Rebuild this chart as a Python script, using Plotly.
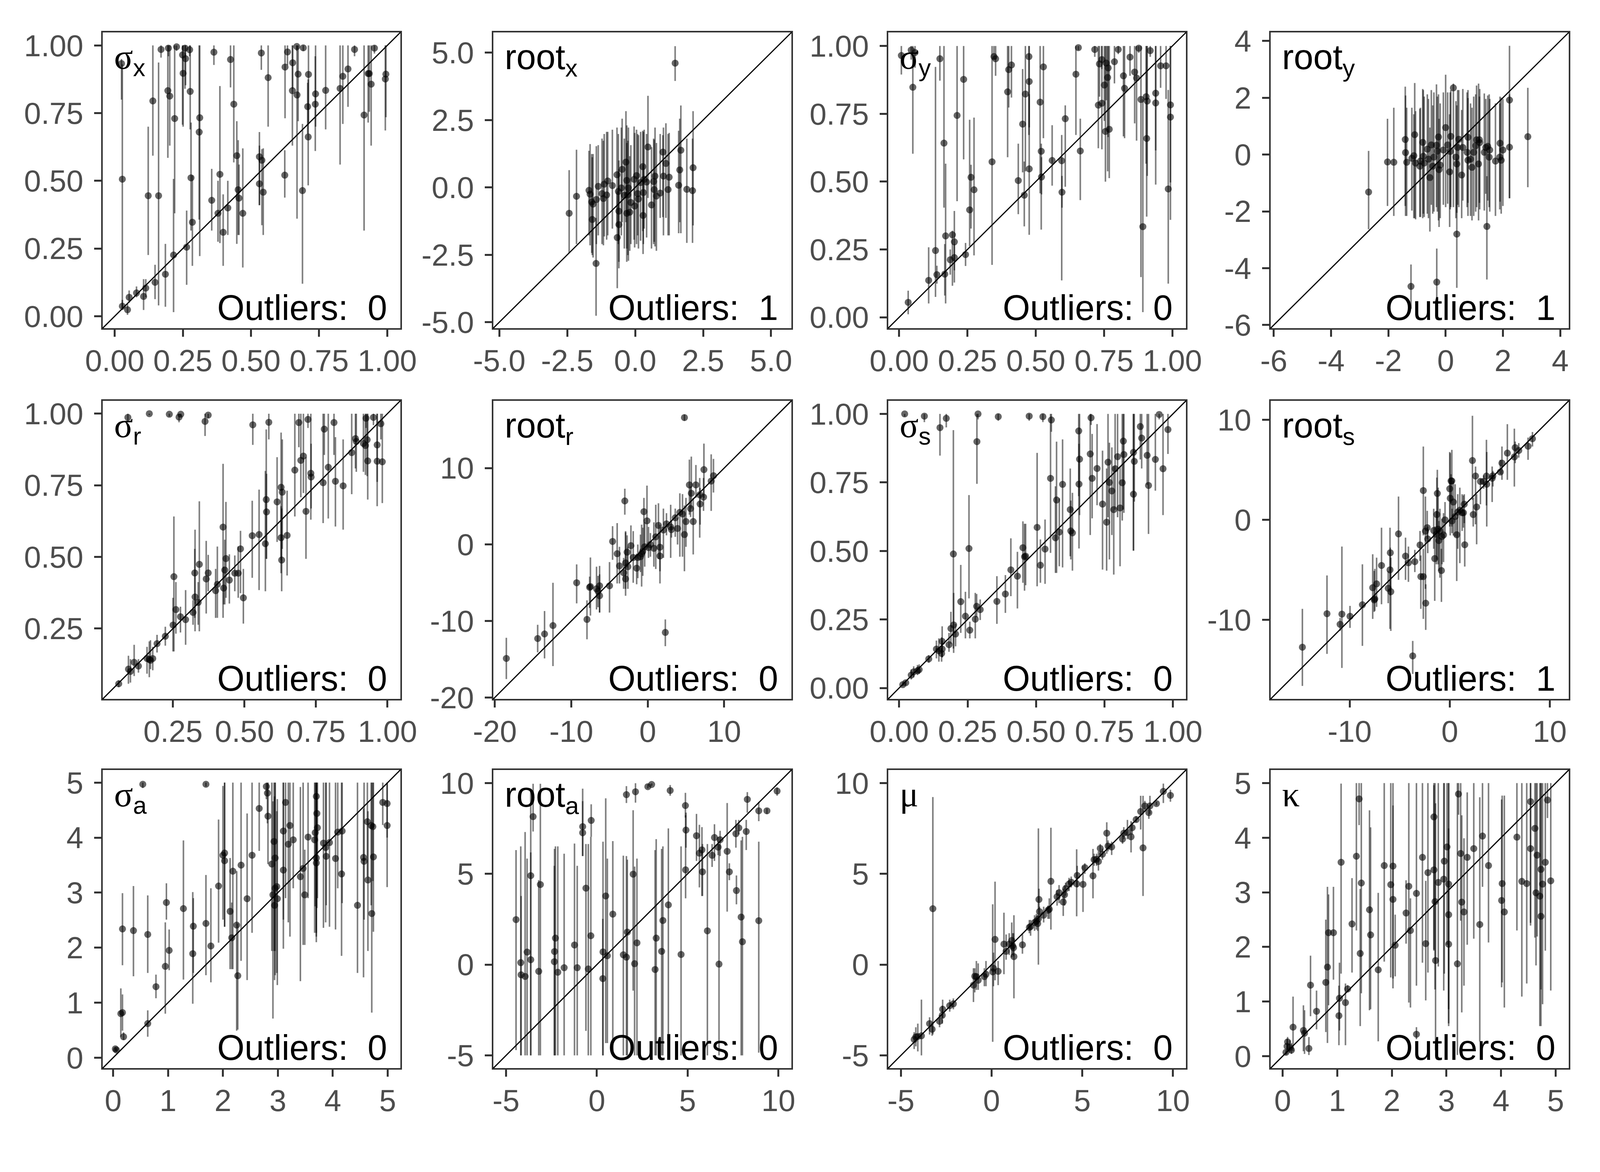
import plotly.graph_objects as go

# panel titles and outlier counts
labels = ["σ|x", "root|x", "σ|y", "root|y", "σ|r", "root|r", "σ|s", "root|s", "σ|a", "root|a", "μ|", "κ|"]
outliers = [0, 1, 0, 1, 0, 0, 0, 1, 0, 0, 0, 0]

# rows: true value, estimate, lower, upper
sig_x = [
    [0.028, 0.506, 0.03, 0.93], [0.025, 0.933, 0.80, 0.95], [0.028, 0.037, 0.023, 0.06], [0.047, 0.024, 0.005, 0.045],
    [0.053, 0.07, 0.05, 0.095], [0.08, 0.086, 0.07, 0.11], [0.106, 0.073, 0.023, 0.137], [0.114, 0.104, 0.07, 0.137],
    [0.148, 0.125, 0.063, 0.19], [0.186, 0.155, 0.035, 0.267], [0.216, 0.226, 0.015, 0.507], [0.123, 0.445, 0.226, 0.70],
    [0.161, 0.445, 0.04, 0.937], [0.14, 0.795, 0.593, 1.0], [0.17, 0.985, 0.955, 1.0], [0.195, 0.833, 0.585, 1.0],
    [0.197, 0.99, 0.96, 1.0], [0.202, 0.813, 0.63, 1.0], [0.22, 0.73, 0.38, 1.0], [0.227, 0.995, 0.98, 1.0],
    [0.249, 0.965, 0.707, 1.0], [0.251, 0.897, 0.70, 1.0], [0.258, 0.99, 0.84, 1.0], [0.26, 0.951, 0.853, 1.0],
    [0.264, 0.255, 0.116, 0.39], [0.275, 0.984, 0.96, 1.0], [0.277, 0.83, 0.69, 1.0], [0.28, 0.511, 0.316, 0.715],
    [0.285, 0.347, 0.186, 0.52], [0.312, 0.733, 0.222, 1.0], [0.31, 0.68, 0.357, 1.0], [0.364, 0.975, 0.928, 1.0],
    [0.356, 0.428, 0.316, 0.544], [0.379, 0.38, 0.275, 0.5], [0.386, 0.524, 0.27, 0.85], [0.398, 0.31, 0.186, 0.45],
    [0.415, 0.40, 0.30, 0.50], [0.425, 0.948, 0.845, 1.0], [0.437, 0.783, 0.568, 1.0], [0.448, 0.593, 0.267, 0.72],
    [0.453, 0.467, 0.30, 0.65], [0.456, 0.436, 0.30, 0.56], [0.47, 0.38, 0.18, 0.62], [0.531, 0.589, 0.41, 0.68],
    [0.531, 0.489, 0.41, 0.63], [0.54, 0.576, 0.336, 0.617], [0.545, 0.458, 0.30, 0.62], [0.538, 0.972, 0.91, 1.0],
    [0.563, 0.881, 0.70, 1.0], [0.624, 0.521, 0.438, 0.613], [0.625, 0.92, 0.731, 1.0], [0.634, 0.976, 0.927, 1.0],
    [0.652, 0.833, 0.63, 1.0], [0.653, 0.936, 0.84, 1.0], [0.669, 0.817, 0.36, 1.0], [0.668, 0.996, 0.98, 1.0],
    [0.673, 0.894, 0.72, 1.0], [0.689, 0.464, 0.12, 0.71], [0.692, 0.991, 0.98, 1.0], [0.708, 0.774, 0.674, 0.862],
    [0.71, 0.662, 0.483, 0.874], [0.711, 0.893, 0.715, 1.0], [0.736, 0.783, 0.61, 0.96], [0.737, 0.821, 0.70, 1.0],
    [0.774, 0.834, 0.69, 1.0], [0.827, 0.841, 0.56, 1.0], [0.837, 0.886, 0.71, 1.0], [0.856, 0.913, 0.773, 1.0],
    [0.88, 0.985, 0.96, 1.0], [0.915, 0.743, 0.316, 1.0], [0.93, 0.896, 0.715, 1.0], [0.934, 0.896, 0.755, 1.0],
    [0.941, 0.857, 0.63, 1.0], [0.953, 0.99, 0.97, 1.0], [0.995, 0.894, 0.735, 1.0], [0.993, 0.876, 0.686, 1.0],
]

root_x = [
    [1.47, 4.61, 3.95, 5.24], [-2.43, -0.96, -2.43, 0.64], [-2.16, -0.33, -2.1, 1.40], [-1.70, -0.11, -1.78, 1.36],
    [-1.66, -0.25, -2.15, 1.61], [-1.60, -0.54, -2.43, 1.24], [-1.58, -1.19, -2.51, 1.12], [-1.55, -0.62, -2.60, 1.24],
    [-1.44, -2.82, -4.76, -1.13], [-1.43, -0.45, -2.1, 1.53], [-1.36, 0.04, -1.78, 1.57], [-1.22, -0.23, -2.1, 1.81],
    [-1.17, -0.41, -2.15, 1.73], [-1.14, 0.12, -1.82, 1.98], [-1.05, -0.28, -1.94, 2.06], [-1.01, 0.24, -1.78, 2.06],
    [-0.84, 0.07, -1.53, 2.14], [-0.67, 0.47, -1.45, 2.22], [-0.66, -1.86, -3.74, -0.15], [-0.62, -0.15, -2.10, 1.98],
    [-0.60, -1.38, -3.0, 0.67], [-0.60, -0.88, -2.76, 1.0], [-0.51, -0.02, -1.78, 2.22], [-0.48, 0.67, -1.29, 2.55],
    [-0.40, -0.29, -2.27, 1.81], [-0.34, 0.94, -1.29, 2.83], [-0.31, 0.26, -2.27, 2.30], [-0.31, -0.96, -2.76, 1.65],
    [-0.27, -0.27, -2.51, 1.73], [-0.25, -0.02, -2.72, 2.22], [-0.20, -0.92, -2.35, 1.16], [-0.16, -0.56, -2.10, 1.57],
    [-0.04, 0.30, -1.94, 2.26], [-0.02, -0.69, -2.23, 2.02], [0.05, 0.44, -2.10, 2.14], [0.09, -0.23, -1.78, 1.98],
    [0.12, -0.43, -2.27, 1.94], [0.20, 0.18, -1.98, 2.06], [0.28, 0.77, -1.62, 2.10], [0.29, -1.04, -2.47, 0.83],
    [0.30, -0.19, -2.1, 2.06], [0.33, 0.30, -1.53, 2.14], [0.42, 0.20, -1.86, 1.98], [0.47, 1.50, -0.39, 3.40],
    [0.60, -0.65, -2.27, 1.49], [0.68, 0.22, -2.1, 1.81], [0.70, -0.08, -2.02, 1.77], [0.73, 0.42, -2.19, 2.22],
    [0.78, -0.32, -2.35, 1.65], [0.92, -0.21, -1.13, 1.98], [1.02, 1.31, -1.1, 1.94], [1.04, 0.42, -1.78, 2.22],
    [1.13, 0.89, -1.13, 2.38], [1.21, -0.08, -1.78, 1.98], [1.25, 0.38, -1.78, 2.02], [1.60, 0.08, -1.70, 2.10],
    [1.64, 0.65, -1.29, 2.55], [1.68, 1.38, -1.70, 3.04], [1.90, -0.07, -2.06, 1.81], [2.11, -0.12, -2.06, 1.81],
    [2.13, 0.73, -1.41, 2.83],
]

sig_y = [
    [0.008, 0.965, 0.895, 1.0], [0.033, 0.055, 0.011, 0.098], [0.044, 0.985, 0.95, 1.0], [0.05, 0.848, 0.603, 1.0],
    [0.058, 0.976, 0.92, 1.0], [0.108, 0.136, 0.051, 0.258], [0.133, 0.246, 0.075, 0.923], [0.138, 0.157, 0.124, 0.19],
    [0.149, 0.953, 0.872, 1.0], [0.164, 0.642, 0.404, 1.0], [0.167, 0.159, 0.08, 0.27], [0.17, 0.30, 0.051, 0.566],
    [0.195, 0.304, 0.116, 0.319], [0.187, 0.212, 0.157, 0.25], [0.202, 0.278, 0.128, 0.392], [0.202, 0.22, 0.173, 0.27],
    [0.212, 0.744, 0.428, 1.0], [0.236, 0.877, 0.582, 1.0], [0.243, 0.231, 0.189, 0.274], [0.258, 0.396, 0.262, 0.728],
    [0.263, 0.516, 0.327, 0.562], [0.274, 0.47, 0.228, 0.736], [0.34, 0.573, 0.193, 1.0], [0.347, 0.961, 0.951, 1.0],
    [0.353, 0.953, 0.89, 1.0], [0.397, 0.831, 0.59, 1.0], [0.401, 0.913, 0.773, 1.0], [0.411, 0.93, 0.81, 1.0],
    [0.436, 0.504, 0.38, 0.64], [0.452, 0.712, 0.534, 0.915], [0.458, 0.45, 0.335, 0.574], [0.462, 0.823, 0.538, 1.0],
    [0.475, 0.961, 0.672, 1.0], [0.476, 0.869, 0.70, 1.0], [0.476, 0.547, 0.304, 0.822], [0.516, 0.793, 0.457, 1.0],
    [0.52, 0.612, 0.323, 0.64], [0.521, 0.517, 0.453, 0.59], [0.528, 0.923, 0.66, 1.0], [0.56, 0.578, 0.485, 0.708],
    [0.595, 0.577, 0.136, 0.672], [0.596, 0.461, 0.404, 0.521], [0.608, 0.732, 0.481, 0.781], [0.647, 0.896, 0.672, 1.0],
    [0.656, 0.994, 0.985, 1.0], [0.663, 0.613, 0.432, 0.732], [0.716, 0.987, 0.96, 1.0], [0.729, 0.782, 0.623, 1.0],
    [0.733, 0.934, 0.813, 1.0], [0.742, 0.789, 0.619, 1.0], [0.742, 0.95, 0.915, 1.0], [0.751, 0.856, 0.724, 1.0],
    [0.755, 0.685, 0.50, 1.0], [0.758, 0.937, 0.80, 1.0], [0.763, 0.884, 0.538, 1.0], [0.765, 0.919, 0.664, 1.0],
    [0.769, 0.693, 0.513, 1.0], [0.788, 0.942, 0.862, 1.0], [0.802, 0.987, 0.97, 1.0], [0.821, 0.89, 0.667, 1.0],
    [0.825, 0.844, 0.66, 1.0], [0.845, 0.959, 0.89, 1.0], [0.862, 0.904, 0.715, 1.0], [0.869, 0.882, 0.651, 1.0],
    [0.877, 0.992, 0.975, 1.0], [0.885, 0.803, 0.148, 1.0], [0.892, 0.334, 0.019, 0.805], [0.904, 0.813, 0.566, 1.0],
    [0.906, 0.659, 0.371, 1.0], [0.908, 0.797, 0.521, 1.0], [0.919, 0.983, 0.96, 1.0], [0.939, 0.826, 0.615, 1.0],
    [0.939, 0.79, 0.489, 1.0], [0.957, 0.927, 0.846, 1.0], [0.977, 0.927, 0.805, 1.0], [0.985, 0.473, 0.124, 0.838],
    [0.993, 0.783, 0.359, 1.0], [0.993, 0.738, 0.497, 1.0],
]

root_y = [
    [-2.69, -1.32, -2.63, 0.13], [-2.03, -0.26, -1.81, 1.26], [-1.81, -0.27, -2.16, 1.65], [-1.41, 0.53, -1.81, 2.39],
    [-1.40, 0.07, -2.16, 2.08], [-1.36, -0.27, -2.16, 1.65], [-1.18, -0.13, -1.97, 1.65], [-1.11, -0.04, -2.24, 1.42],
    [-1.08, 0.70, -2.24, 2.52], [-1.05, -0.30, -2.28, 1.53], [-0.90, -0.41, -2.20, 1.61], [-0.88, -0.23, -2.20, 1.65],
    [-0.80, 0.43, -2.24, 2.31], [-0.78, -0.06, -2.08, 2.27], [-0.75, -0.30, -2.20, 2.04], [-0.64, 0.19, -2.08, 2.12],
    [-0.60, -0.16, -2.24, 1.96], [-0.55, -0.81, -2.71, 0.95], [-0.50, 0.34, -1.77, 2.27], [-0.45, -0.41, -2.08, 1.73],
    [-0.41, -0.09, -2.01, 2.19], [-0.32, 0.33, -1.85, 2.47], [-0.29, 0.12, -2.01, 2.04], [-0.25, 0.62, -2.32, 2.12],
    [-0.23, -0.53, -2.55, 1.26], [-0.19, -0.37, -2.24, 1.80], [-0.08, 0.16, -1.77, 2.19], [0.0, 0.95, -1.85, 2.81],
    [0.07, 0.34, -1.73, 2.19], [0.14, -0.61, -2.55, 1.42], [0.18, 0.64, -1.85, 2.27], [0.16, 0.11, -1.93, 2.19],
    [0.27, 2.35, -1.85, 2.50], [0.36, -0.09, -2.24, 1.88], [0.39, -0.33, -2.05, 1.73], [0.39, -2.80, -4.69, -0.14],
    [0.42, 0.25, -1.77, 2.27], [0.46, 0.54, -1.85, 2.27], [0.56, -0.72, -2.24, 1.57], [0.60, 0.25, -1.62, 2.31],
    [0.75, 0.08, -1.85, 2.19], [0.78, 0.61, -1.70, 2.27], [0.78, -0.20, -2.16, 1.99], [0.87, -0.16, -2.16, 1.80],
    [0.92, -0.45, -2.32, 1.65], [0.98, 0.08, -2.16, 2.04], [1.05, 0.31, -2.01, 2.12], [1.08, 0.52, -1.85, 2.43],
    [1.15, -0.33, -2.32, 2.50], [1.18, 0.52, -1.70, 2.04], [1.19, 0.42, -1.93, 2.31], [1.35, 0.08, -1.97, 2.15],
    [1.40, 0.25, -1.38, 1.96], [1.44, -2.53, -4.40, -0.76], [1.47, 0.29, -1.62, 2.08], [1.52, -0.09, -1.85, 2.12],
    [1.54, 0.16, -2.01, 1.96], [1.74, -0.23, -2.16, 1.80], [1.89, -0.09, -1.93, 1.80], [1.90, 0.40, -1.66, 2.04],
    [1.94, -0.20, -2.08, 2.00], [2.00, 0.16, -1.81, 1.96], [2.23, 1.92, -1.54, 3.83], [2.23, 0.26, -1.54, 2.12],
    [2.87, 0.63, -1.15, 2.35], [-1.21, -4.64, -5.43, -3.87], [-0.31, -4.49, -5.66, -3.31],
]

sig_r = [
    [0.06, 0.057, 0.045, 0.069], [0.094, 0.108, 0.057, 0.155], [0.101, 0.10, 0.061, 0.143], [0.114, 0.132, 0.084, 0.193],
    [0.129, 0.119, 0.096, 0.143], [0.159, 0.145, 0.092, 0.186], [0.167, 0.142, 0.08, 0.205], [0.171, 0.139, 0.108, 0.209],
    [0.179, 0.145, 0.104, 0.186], [0.194, 0.197, 0.166, 0.228], [0.223, 0.223, 0.19, 0.256], [0.25, 0.262, 0.17, 0.357],
    [0.253, 0.431, 0.17, 0.641], [0.26, 0.316, 0.232, 0.412], [0.276, 0.291, 0.236, 0.326], [0.294, 0.281, 0.193, 0.384],
    [0.32, 0.306, 0.263, 0.349], [0.327, 0.36, 0.24, 0.595], [0.326, 0.444, 0.287, 0.528], [0.338, 0.341, 0.263, 0.412],
    [0.342, 0.474, 0.24, 0.694], [0.366, 0.423, 0.302, 0.556], [0.373, 0.444, 0.38, 0.507], [0.399, 0.382, 0.287, 0.458],
    [0.405, 0.404, 0.287, 0.536], [0.425, 0.604, 0.287, 0.825], [0.427, 0.391, 0.334, 0.466], [0.431, 0.454, 0.334, 0.56],
    [0.435, 0.494, 0.357, 0.692], [0.447, 0.419, 0.337, 0.509], [0.466, 0.443, 0.38, 0.505], [0.478, 0.443, 0.357, 0.536],
    [0.486, 0.528, 0.373, 0.591], [0.496, 0.357, 0.267, 0.458], [0.527, 0.574, 0.427, 0.696], [0.551, 0.578, 0.384, 0.735],
    [0.573, 0.546, 0.38, 0.80], [0.576, 0.70, 0.493, 0.945], [0.577, 0.657, 0.493, 0.79], [0.585, 0.97, 0.91, 1.0],
    [0.529, 0.961, 0.891, 1.0], [0.614, 0.692, 0.552, 0.848], [0.628, 0.743, 0.489, 0.934], [0.628, 0.567, 0.443, 0.677],
    [0.63, 0.489, 0.38, 0.669], [0.632, 0.726, 0.528, 0.91], [0.649, 0.575, 0.435, 0.731], [0.676, 0.803, 0.641, 1.0],
    [0.69, 0.969, 0.883, 1.0], [0.697, 0.837, 0.708, 1.0], [0.706, 0.852, 0.723, 1.0], [0.715, 0.659, 0.493, 0.848],
    [0.722, 0.98, 0.95, 1.0], [0.732, 0.792, 0.63, 1.0], [0.733, 0.779, 0.669, 0.895], [0.775, 0.759, 0.618, 1.0],
    [0.779, 0.946, 0.856, 1.0], [0.793, 0.813, 0.634, 1.0], [0.813, 0.969, 0.856, 1.0], [0.818, 0.764, 0.606, 0.918],
    [0.845, 0.748, 0.595, 0.91], [0.875, 0.864, 0.719, 1.0], [0.888, 0.913, 0.809, 1.0], [0.891, 0.903, 0.797, 1.0],
    [0.916, 0.896, 0.797, 1.0], [0.923, 0.889, 0.786, 1.0], [0.925, 0.984, 0.95, 1.0], [0.929, 0.909, 0.782, 1.0],
    [0.931, 0.835, 0.70, 1.0], [0.951, 0.987, 0.96, 1.0], [0.964, 0.891, 0.762, 1.0], [0.964, 0.834, 0.677, 1.0],
    [0.977, 0.965, 0.91, 1.0], [0.982, 0.832, 0.688, 1.0], [0.092, 0.987, 0.975, 1.0], [0.167, 1.0, 0.995, 1.0],
    [0.237, 0.998, 0.99, 1.0], [0.271, 0.988, 0.97, 1.0], [0.277, 0.998, 0.99, 1.0], [0.362, 0.973, 0.922, 1.0],
    [0.373, 0.995, 0.985, 1.0],
]

root_r = [
    [-18.5, -14.9, -17.6, -12.2], [-14.4, -12.3, -14.1, -10.5], [-13.5, -11.7, -14.9, -8.7], [-12.4, -10.6, -15.9, -5.0],
    [-9.3, -5.0, -7.7, -2.6], [-7.95, -9.8, -12.4, -7.3], [-7.6, -5.6, -8.3, -4.2], [-7.5, -5.5, -9.3, -1.7],
    [-6.7, -5.8, -8.5, -2.9], [-6.5, -6.1, -8.2, -4.1], [-6.3, -6.7, -8.9, -3.9], [-6.3, -5.4, -8.9, -2.8],
    [-5.0, -5.4, -8.9, -2.3], [-4.6, 0.4, -2.0, 2.4], [-4.0, -1.2, -5.1, 2.8], [-3.7, -2.8, -5.1, -0.3],
    [-3.15, -3.7, -5.8, -1.75], [-3.0, 5.7, 3.9, 7.3], [-2.9, -4.5, -6.7, 1.75], [-2.9, -2.4, -5.8, 1.6],
    [-2.7, -1.0, -3.0, 1.2], [-2.6, -2.9, -5.8, -0.3], [-2.2, -0.15, -2.3, 2.5], [-1.9, -1.7, -5.0, 1.75],
    [-1.45, -3.1, -5.2, -1.2], [-1.3, -1.7, -4.4, 0.0], [-0.95, -1.6, -3.6, 1.3], [-0.8, -1.2, -5.5, 2.6],
    [-0.65, -0.9, -4.1, 2.2], [-0.5, 4.3, -1.3, 6.1], [-0.4, -0.3, -2.9, 2.9], [-0.1, 3.1, -0.4, 7.7],
    [0.1, -0.4, -1.75, 2.3], [0.35, 0.0, -1.6, 1.5], [0.8, -0.5, -2.9, 2.9], [1.05, 1.0, -3.2, 5.2],
    [1.4, 2.5, -1.9, 5.4], [1.6, -0.35, -3.5, 2.6], [1.6, -1.5, -5.1, 1.75], [2.05, 1.9, -1.75, 4.7],
    [2.3, -11.5, -13.3, -9.8], [2.45, 2.7, 1.2, 4.1], [3.0, 2.3, -1.75, 5.2], [3.1, 1.95, 0.9, 3.1],
    [3.6, 3.5, 1.0, 4.7], [3.9, 2.1, 0.0, 3.5], [4.2, 4.2, -1.6, 6.7], [4.55, 4.0, -1.6, 6.6],
    [4.8, 1.3, -3.5, 5.1], [4.8, 16.6, 16.2, 17.0], [5.0, 3.0, -0.3, 6.1], [5.45, 7.8, 3.9, 11.1],
    [5.6, 4.7, 3.6, 7.6], [5.7, 6.7, 4.7, 11.5], [5.95, 3.0, -1.3, 6.1], [6.3, 7.8, 6.1, 10.4],
    [6.8, 6.5, 0.9, 8.7], [6.85, 5.3, 2.6, 7.4], [7.3, 6.2, 4.4, 8.7], [7.35, 9.8, 6.1, 13.2],
    [8.3, 8.3, 4.4, 11.8], [8.6, 9.0, 6.8, 11.2],
]

sig_s = [
    [0.013, 0.012, 0.006, 0.019], [0.024, 0.019, 0.011, 0.027], [0.02, 1.0, 0.99, 1.0], [0.044, 0.047, 0.031, 0.067],
    [0.053, 0.059, 0.039, 0.079], [0.067, 0.063, 0.047, 0.084], [0.073, 0.067, 0.051, 0.086], [0.092, 0.992, 0.97, 1.0],
    [0.108, 0.106, 0.092, 0.12], [0.136, 0.142, 0.108, 0.173], [0.145, 0.136, 0.096, 0.181], [0.155, 0.126, 0.096, 0.185],
    [0.157, 0.17, 0.112, 0.225], [0.157, 0.142, 0.112, 0.173], [0.149, 0.95, 0.848, 1.0], [0.172, 0.984, 0.951, 1.0],
    [0.182, 0.158, 0.132, 0.201], [0.189, 0.217, 0.161, 0.278], [0.199, 0.23, 0.128, 0.347], [0.198, 0.489, 0.144, 0.941],
    [0.206, 0.197, 0.152, 0.234], [0.225, 0.315, 0.201, 0.449], [0.242, 0.262, 0.181, 0.351], [0.255, 0.509, 0.327, 0.704],
    [0.258, 0.211, 0.181, 0.242], [0.278, 0.251, 0.181, 0.347], [0.283, 0.298, 0.258, 0.343], [0.284, 0.899, 0.745, 1.0],
    [0.288, 1.0, 0.98, 1.0], [0.296, 0.286, 0.248, 0.323], [0.357, 0.316, 0.234, 0.408], [0.362, 0.99, 0.975, 1.0],
    [0.388, 0.343, 0.274, 0.412], [0.408, 0.431, 0.335, 0.546], [0.432, 0.408, 0.29, 0.497], [0.452, 0.512, 0.384, 0.608],
    [0.458, 0.479, 0.355, 0.599], [0.462, 0.481, 0.375, 0.599], [0.475, 0.992, 0.975, 1.0], [0.504, 0.586, 0.371, 0.858],
    [0.516, 0.448, 0.384, 0.542], [0.525, 0.99, 0.97, 1.0], [0.533, 0.507, 0.38, 0.615], [0.553, 0.765, 0.493, 1.0],
    [0.556, 0.978, 0.935, 1.0], [0.571, 0.548, 0.42, 0.736], [0.575, 0.686, 0.42, 0.899], [0.585, 0.569, 0.444, 0.692],
    [0.597, 0.743, 0.44, 0.907], [0.625, 0.651, 0.481, 0.801], [0.627, 0.573, 0.469, 0.684], [0.633, 0.566, 0.428, 0.712],
    [0.656, 0.938, 0.70, 1.0], [0.657, 0.744, 0.509, 0.891], [0.659, 0.835, 0.631, 1.0], [0.698, 0.854, 0.558, 1.0],
    [0.701, 0.986, 0.96, 1.0], [0.705, 0.765, 0.619, 0.927], [0.723, 0.801, 0.667, 0.963], [0.743, 0.671, 0.432, 0.866],
    [0.758, 0.605, 0.428, 0.801], [0.763, 0.824, 0.623, 1.0], [0.768, 0.75, 0.469, 0.895], [0.777, 0.719, 0.558, 0.878],
    [0.784, 0.651, 0.414, 0.809], [0.789, 0.80, 0.651, 1.0], [0.798, 0.844, 0.623, 1.0], [0.807, 0.657, 0.444, 0.809],
    [0.815, 0.749, 0.611, 1.0], [0.819, 0.901, 0.651, 1.0], [0.821, 0.852, 0.639, 1.0], [0.856, 0.86, 0.501, 1.0],
    [0.856, 0.707, 0.501, 1.0], [0.859, 0.827, 0.68, 1.0], [0.881, 0.954, 0.834, 1.0], [0.886, 0.912, 0.801, 1.0],
    [0.906, 0.849, 0.741, 1.0], [0.911, 0.739, 0.562, 1.0], [0.936, 0.834, 0.72, 1.0], [0.95, 0.998, 0.98, 1.0],
    [0.964, 0.80, 0.631, 1.0], [0.982, 0.943, 0.854, 1.0],
]

root_s = [
    [-14.73, -12.73, -16.6, -8.9], [-12.27, -9.38, -13.4, -5.56], [-10.96, -10.44, -11.1, -9.8], [-10.78, -9.42, -14.8, -2.67],
    [-9.97, -9.64, -10.8, -8.6], [-8.73, -8.49, -12.6, -4.44], [-7.70, -6.78, -9.9, -3.44], [-7.55, -8.0, -9.2, -5.1],
    [-7.49, -7.9, -9.1, -4.9], [-7.31, -6.4, -8.7, -3.78], [-6.82, -4.56, -8.44, -0.78], [-6.15, -6.84, -8.33, -5.1],
    [-5.94, -3.29, -7.56, -2.78], [-5.97, -5.0, -10.9, -0.78], [-5.89, -7.18, -11.1, -3.78], [-5.12, -1.4, -6.0, 2.33],
    [-4.42, -3.62, -6.0, -1.78], [-4.13, -4.29, -6.2, -2.67], [-3.70, -13.6, -15.4, -12.1], [-3.49, -4.18, -5.22, -3.0],
    [-2.97, -2.51, -4.1, -1.11], [-2.89, -5.67, -8.9, -3.56], [-2.64, -5.67, -9.9, -2.89], [-2.64, 2.93, -1.56, 7.33],
    [-2.43, -1.13, -6.89, 2.33], [-2.40, -8.33, -11.0, -6.44], [-2.25, -0.78, -1.9, 0.9], [-2.20, -1.91, -3.33, -0.67],
    [-1.60, -1.07, -2.89, 1.11], [-1.50, -3.87, -8.1, -0.67], [-1.34, -1.44, -4.44, 0.89], [-1.29, 0.53, -4.0, 4.22],
    [-1.24, 2.64, -0.89, 5.0], [-1.16, -0.93, -4.44, 3.22], [-1.09, -2.07, -5.1, -0.11], [-0.98, -1.11, -5.78, 1.11],
    [-0.83, -5.07, -8.2, -2.89], [-0.78, -1.67, -4.44, 0.11], [-0.62, -1.51, -4.22, 0.67], [-0.47, 0.0, -1.44, 1.78],
    [0.0, 3.11, -0.67, 6.78], [0.05, 2.16, -1.56, 6.67], [0.13, 3.89, 1.67, 4.56], [0.21, 3.89, -0.67, 7.0],
    [0.23, -0.11, -1.33, 1.11], [0.36, 1.78, -1.56, 3.89], [0.54, 0.33, -1.67, 3.56], [0.70, -1.49, -6.11, 0.22],
    [0.80, 0.78, -2.89, 2.56], [1.01, 0.96, -4.33, 3.22], [1.24, 0.71, -1.11, 2.56], [1.37, 0.71, -0.78, 2.44],
    [1.45, 1.56, -0.33, 2.56], [1.50, -2.49, -4.67, 0.67], [2.27, 5.93, 2.0, 10.4], [2.35, 0.53, -0.67, 2.22],
    [2.58, 4.38, -0.44, 5.33], [2.69, 1.29, -2.44, 2.56], [3.07, 3.84, 1.56, 4.11], [3.39, 3.84, 3.11, 4.44],
    [3.67, 4.38, 1.44, 8.0], [3.70, 3.56, -0.67, 6.78], [4.24, 4.16, 1.78, 5.33], [4.31, 4.4, 3.33, 4.89],
    [5.06, 4.78, 4.56, 6.0], [5.22, 5.67, 4.0, 7.33], [5.76, 6.67, 4.0, 9.56], [6.46, 6.29, 3.33, 9.11],
    [6.54, 7.22, 5.67, 7.82], [6.90, 6.93, 6.22, 7.67], [7.83, 7.36, 6.0, 8.22], [8.27, 8.11, 7.33, 8.78],
]

sig_a = [
    [0.04, 0.16, 0.12, 0.19], [0.06, 0.14, 0.11, 0.17], [0.14, 0.80, 0.38, 1.26], [0.17, 0.82, 0.49, 1.15],
    [0.17, 2.34, 1.68, 2.99], [0.19, 0.38, 0.32, 0.46], [0.54, 4.97, 4.90, 5.0], [0.37, 2.31, 1.48, 3.12],
    [0.63, 2.24, 1.54, 2.95], [0.63, 0.62, 0.38, 0.86], [0.78, 1.29, 1.08, 1.51], [0.95, 1.66, 0.80, 2.46],
    [0.97, 2.82, 2.51, 3.17], [1.02, 1.95, 1.59, 2.33], [1.28, 2.71, 1.42, 3.95], [1.45, 1.89, 0.98, 3.01],
    [1.46, 2.39, 1.54, 2.90], [1.69, 4.97, 4.93, 5.0], [1.69, 2.44, 1.50, 3.32], [1.78, 2.03, 1.37, 3.08],
    [1.92, 3.12, 2.09, 4.33], [2.00, 3.68, 2.51, 4.94], [2.03, 3.72, 2.38, 5.0], [2.03, 3.58, 2.38, 5.0],
    [2.13, 2.66, 1.61, 3.63], [2.16, 2.18, 1.61, 2.82], [2.18, 3.39, 1.61, 5.0], [2.25, 2.41, 0.49, 3.39],
    [2.27, 1.49, 0.51, 2.44], [2.33, 3.50, 1.76, 5.0], [2.44, 2.89, 1.41, 4.44], [2.53, 3.68, 2.27, 5.0],
    [2.66, 4.53, 3.76, 5.0], [2.79, 4.93, 4.7, 5.0], [2.81, 4.81, 4.26, 5.0], [2.82, 4.39, 3.52, 5.0],
    [2.89, 3.52, 1.94, 5.0], [2.91, 2.96, 0.71, 4.66], [2.93, 3.93, 1.94, 5.0], [2.94, 2.77, 1.41, 4.75],
    [2.95, 3.63, 1.94, 5.0], [2.95, 3.08, 1.5, 5.0], [2.98, 3.11, 1.54, 4.48], [2.99, 2.89, 1.32, 4.70],
    [3.10, 3.41, 1.98, 5.0], [3.10, 4.12, 2.51, 5.0], [3.14, 4.64, 2.90, 5.0], [3.19, 3.88, 2.46, 5.0],
    [3.22, 4.22, 2.2, 5.0], [3.28, 3.96, 3.08, 5.0], [3.41, 3.29, 1.39, 4.92], [3.46, 3.44, 2.05, 5.0],
    [3.49, 2.96, 2.05, 3.78], [3.55, 4.01, 2.90, 5.0], [3.67, 3.96, 2.27, 5.0], [3.68, 4.09, 2.75, 5.0],
    [3.70, 4.75, 2.20, 5.0], [3.70, 3.63, 2.1, 5.0], [3.70, 3.54, 2.27, 5.0], [3.71, 4.44, 2.72, 5.0],
    [3.72, 4.18, 2.90, 5.0], [3.83, 3.90, 2.36, 5.0], [3.87, 3.82, 2.46, 5.0], [3.88, 3.66, 2.77, 5.0],
    [3.94, 3.91, 2.38, 5.0], [4.05, 3.62, 2.33, 5.0], [4.09, 4.10, 3.08, 5.0], [4.16, 3.34, 1.85, 5.0],
    [4.17, 4.12, 2.81, 5.0], [4.45, 2.77, 1.54, 5.0], [4.56, 3.64, 1.46, 4.53], [4.57, 3.57, 2.51, 5.0],
    [4.63, 4.29, 3.29, 5.0], [4.70, 4.22, 2.77, 5.0], [4.64, 3.23, 1.94, 4.48], [4.71, 2.62, 0.82, 5.0],
    [4.73, 4.20, 3.21, 5.0], [4.74, 3.65, 2.29, 5.0], [4.91, 4.64, 4.23, 5.0], [4.99, 4.62, 4.0, 5.0],
    [4.99, 4.22, 3.10, 5.0],
]

root_a = [
    [-4.45, 2.48, -4.71, 6.31], [-4.19, 0.11, -5.0, 6.51], [-4.17, -0.56, -5.0, 3.78], [-3.95, -0.65, -5.0, 7.30],
    [-3.84, 0.69, -5.0, 5.84], [-3.64, 0.27, -5.0, 6.18], [-3.64, 4.90, -5.0, 9.69], [-3.51, 8.15, 7.33, 9.96],
    [-3.20, -0.37, -5.0, 4.65], [-3.11, 4.41, -5.0, 9.96], [-2.34, 0.16, -5.0, 5.44], [-2.33, 0.72, -5.0, 6.37],
    [-2.28, 1.46, -5.0, 6.51], [-2.15, -0.42, -5.0, 6.51], [-1.80, -0.17, -5.0, 6.11], [-1.23, 1.08, -5.0, 6.67],
    [-1.08, -0.17, -5.0, 5.44], [-0.78, 7.60, 5.98, 9.69], [-0.78, 7.26, 5.98, 9.0], [-0.60, 4.21, -3.65, 6.64],
    [-0.47, -0.24, -5.0, 6.64], [-0.31, 7.94, 7.04, 8.83], [-0.33, 1.59, -5.0, 7.04], [0.33, -0.77, -5.0, 2.52],
    [0.34, 0.70, -5.0, 6.77], [0.49, 3.78, -4.32, 9.16], [0.58, 0.49, -4.32, 5.84], [0.88, 2.78, -5.0, 6.80],
    [1.46, 0.54, -5.0, 6.00], [1.63, 9.36, 8.90, 9.83], [1.63, 0.41, -5.0, 5.98], [1.68, 1.79, -5.0, 5.78],
    [2.00, 4.98, -1.43, 8.50], [2.08, 0.05, -5.0, 5.4], [2.13, 9.52, 8.92, 9.99], [2.21, 1.20, -5.0, 5.84],
    [2.81, 9.80, 9.70, 9.93], [3.02, 9.92, 9.85, 9.98], [3.21, -0.27, -5.0, 6.31], [3.27, 1.46, -5.0, 6.91],
    [3.57, 0.73, -5.0, 6.37], [3.64, 2.43, -5.0, 6.51], [3.94, 3.29, -5.0, 7.50], [4.04, 9.59, 9.30, 9.89],
    [4.64, 0.56, -5.0, 6.51], [4.88, 8.76, 8.10, 9.46], [4.89, 5.22, 3.65, 8.23], [4.91, 7.41, 6.44, 8.37],
    [5.49, 7.10, 5.71, 8.30], [5.65, 6.14, 4.25, 7.70], [5.79, 6.32, 3.78, 7.57], [5.82, 5.11, 3.78, 6.64],
    [6.09, 1.86, -5.0, 6.64], [6.35, 6.02, 5.38, 6.64], [6.48, 7.00, 5.71, 7.73], [6.68, 6.47, 6.03, 7.04],
    [6.73, 0.03, -5.0, 6.64], [6.79, 6.88, 5.98, 7.37], [7.18, 6.24, 2.92, 8.90], [7.30, 5.11, 4.65, 5.58],
    [7.66, 7.21, 6.44, 7.97], [7.69, 4.08, 3.32, 4.91], [7.82, 7.53, 7.17, 7.97], [7.95, 2.62, -5.0, 6.84],
    [8.02, 1.26, -5.0, 7.04], [8.23, 7.33, 6.31, 7.97], [8.29, 9.10, 8.37, 9.50], [8.92, 8.47, 7.90, 8.96],
    [8.92, 2.42, -4.85, 6.77], [9.37, 8.47, 8.3, 8.6], [9.93, 9.56, 9.30, 9.76],
]

mu = [
    [-4.27, -4.12, -4.65, -3.72], [-4.18, -3.98, -4.50, -3.45], [-4.07, -3.96, -4.78, -3.25], [-3.87, -3.92, -5.0, -1.93],
    [-3.42, -3.25, -3.85, -2.90], [-3.28, -3.56, -3.92, -3.19], [-3.24, 3.08, -3.85, 9.23], [-2.87, -3.12, -3.45, -2.78],
    [-2.72, -2.79, -3.25, -2.26], [-2.70, -2.46, -2.92, -1.93], [-2.31, -2.26, -2.59, -1.93], [-2.11, -2.16, -2.46, -1.86],
    [-1.00, -1.13, -2.06, -0.20], [-0.93, -0.64, -1.53, -0.20], [-0.84, -0.66, -1.39, 0.20], [-0.74, -0.86, -1.39, 0.07],
    [-0.40, -0.66, -1.19, -0.20], [-0.31, -0.53, -1.19, 0.20], [0.06, -0.40, -4.25, 3.32], [0.10, -0.20, -1.19, 0.66],
    [0.19, 1.39, -0.86, 4.57], [0.36, -0.37, -1.13, 0.20], [0.68, 1.13, -0.53, 2.86], [0.80, 0.73, 0.27, 1.66],
    [0.97, 1.13, 0.53, 1.73], [1.11, 1.33, 0.40, 2.32], [1.16, 1.04, 0.53, 1.73], [1.21, 0.93, 0.46, 1.73],
    [1.23, 0.44, -1.86, 2.72], [1.70, 1.09, 0.60, 1.73], [2.08, 2.05, 1.73, 2.46], [2.15, 2.10, 1.59, 2.46],
    [2.37, 2.32, 1.86, 2.72], [2.47, 2.39, 1.93, 2.79], [2.54, 2.26, 1.86, 2.72], [2.58, 2.52, 0.0, 7.50],
    [2.61, 3.59, 3.05, 4.18], [2.64, 2.92, 2.46, 3.19], [2.87, 2.72, 2.32, 3.19], [3.11, 2.99, 2.52, 3.25],
    [3.18, 3.05, 2.52, 3.65], [3.27, 4.59, 1.93, 7.54], [3.61, 3.74, 3.25, 4.11], [3.72, 3.96, 3.39, 4.38],
    [3.95, 3.45, 2.68, 4.18], [4.02, 3.85, 3.25, 4.38], [4.08, 4.18, 3.80, 4.51], [4.27, 4.44, 4.05, 4.78],
    [4.39, 4.54, 4.25, 4.85], [4.69, 4.45, 2.66, 6.35], [4.72, 4.91, 4.25, 5.44], [5.04, 4.42, 2.90, 5.44],
    [5.14, 5.34, 5.0, 5.58], [5.59, 4.89, 3.65, 6.37], [5.65, 5.78, 5.44, 6.11], [5.79, 5.80, 5.44, 6.11],
    [5.89, 5.68, 5.18, 6.24], [5.99, 6.40, 5.98, 6.64], [6.11, 6.08, 5.78, 6.38], [6.35, 7.24, 6.11, 7.84],
    [6.42, 6.53, 6.24, 6.84], [6.62, 6.48, 6.04, 6.77], [7.22, 6.91, 6.65, 7.17], [7.29, 7.24, 6.91, 7.57],
    [7.49, 7.28, 6.91, 7.97], [7.69, 7.04, 6.18, 7.90], [7.75, 7.54, 7.17, 7.84], [7.97, 7.99, 7.84, 8.17],
    [8.22, 8.43, 7.44, 9.30], [8.35, 6.43, 3.78, 9.30], [8.45, 8.74, 8.43, 9.02], [8.67, 8.37, 8.03, 8.79],
    [8.73, 8.74, 8.30, 9.30], [9.09, 8.87, 8.77, 8.97], [9.47, 9.54, 8.90, 9.97], [9.86, 9.32, 8.97, 9.63],
]

kappa = [
    [0.06, 0.07, 0.02, 0.11], [0.08, 0.18, 0.04, 0.31], [0.09, 0.26, 0.11, 0.35], [0.13, 0.16, 0.07, 0.29],
    [0.16, 0.11, 0.04, 0.24], [0.19, 0.53, 0.09, 1.09], [0.38, 0.47, 0.09, 0.93], [0.40, 0.42, 0.04, 0.84],
    [0.48, 0.14, 0.02, 0.35], [0.51, 1.30, 0.73, 1.84], [0.62, 0.82, 0.49, 1.20], [0.79, 1.35, 0.44, 2.50],
    [0.82, 1.63, 0.24, 3.10], [0.84, 2.26, 0.93, 2.96], [0.93, 2.26, 1.40, 3.10], [1.03, 0.74, 0.20, 1.29],
    [1.04, 1.06, 0.47, 1.71], [1.07, 3.55, 1.51, 4.99], [1.15, 0.98, 0.20, 1.33], [1.19, 1.23, 1.17, 1.30],
    [1.27, 2.42, 1.53, 3.26], [1.35, 3.66, 2.30, 5.0], [1.40, 4.71, 4.23, 5.0], [1.42, 1.88, 0.55, 3.06],
    [1.44, 3.17, 1.15, 5.0], [1.59, 2.68, 0.84, 4.50], [1.61, 2.22, 0.86, 4.19], [1.75, 1.58, 0.27, 2.99],
    [1.86, 3.49, 1.73, 5.0], [1.98, 3.14, 1.44, 5.0], [2.02, 3.48, 1.42, 5.0], [2.02, 2.87, 1.24, 4.59],
    [2.06, 2.03, 1.46, 2.59], [2.26, 2.62, 2.06, 3.22], [2.31, 3.11, 0.98, 5.0], [2.34, 2.30, 0.89, 2.89],
    [2.45, 2.98, 1.29, 5.0], [2.45, 0.40, 0.31, 0.53], [2.56, 3.64, 1.71, 5.0], [2.62, 2.06, 1.02, 3.21],
    [2.66, 3.36, 1.53, 5.0], [2.77, 4.38, 1.95, 4.96], [2.77, 3.41, 1.93, 5.0], [2.79, 2.83, 1.22, 5.0],
    [2.80, 1.75, 0.11, 4.63], [2.85, 3.18, 1.64, 5.0], [2.95, 3.24, 1.20, 5.0], [2.96, 3.57, 1.51, 5.0],
    [3.01, 3.83, 2.04, 5.0], [3.04, 3.15, 0.86, 4.17], [3.04, 2.59, 0.60, 5.0], [3.04, 2.05, 0.55, 5.0],
    [3.20, 1.69, 0.02, 5.0], [3.22, 4.80, 4.42, 5.0], [3.26, 3.71, 2.48, 5.0], [3.28, 2.82, 0.80, 4.41],
    [3.32, 2.64, 1.29, 3.99], [3.38, 3.64, 2.04, 4.83], [3.50, 3.80, 2.15, 5.0], [3.61, 2.41, 0.27, 4.74],
    [3.66, 4.03, 3.10, 5.0], [3.77, 3.49, 2.08, 5.0], [4.01, 2.85, 1.26, 4.70], [4.02, 3.16, 1.35, 4.77],
    [4.06, 2.64, 0.89, 4.77], [4.29, 4.01, 2.30, 5.0], [4.38, 3.20, 1.09, 5.0], [4.47, 3.16, 1.33, 5.0],
    [4.54, 4.66, 2.39, 5.0], [4.54, 3.80, 2.44, 5.0], [4.62, 4.17, 2.17, 5.0], [4.64, 2.99, 1.66, 5.0],
    [4.66, 3.68, 2.19, 5.0], [4.71, 2.93, 0.55, 5.0], [4.73, 3.42, 1.22, 5.0], [4.73, 2.56, 0.55, 5.0],
    [4.76, 3.15, 0.95, 5.0], [4.81, 3.55, 1.93, 5.0], [4.85, 4.69, 4.36, 5.0], [4.91, 3.21, 1.20, 5.0],
]

panels = [sig_x, root_x, sig_y, root_y, sig_r, root_r, sig_s, root_s, sig_a, root_a, mu, kappa]

# axis limits (same on x and y) and ticks per panel
ranges = [[-0.044, 1.048], [-5.22, 5.75], [-0.04, 1.05], [-6.11, 4.3],
          [0.004, 1.045], [-20.2, 18.8], [-0.04, 1.048], [-17.9, 11.9],
          [-0.19, 5.23], [-5.7, 10.72], [-5.7, 10.72], [-0.22, 5.24]]
t_unit = ["0.00", "0.25", "0.50", "0.75", "1.00"]
t_five = ["-5.0", "-2.5", "0.0", "2.5", "5.0"]
t_six = ["-6", "-4", "-2", "0", "2", "4"]
t_r = ["0.25", "0.50", "0.75", "1.00"]
t_20 = ["-20", "-10", "0", "10"]
t_10 = ["-10", "0", "10"]
t_05 = ["0", "1", "2", "3", "4", "5"]
t_510 = ["-5", "0", "5", "10"]
tick_text = [t_unit, t_five, t_unit, t_six, t_r, t_20, t_unit, t_10, t_05, t_510, t_510, t_05]

col_dom = [(0.0607, 0.2421), (0.2988, 0.4805), (0.5395, 0.7210), (0.7726, 0.9543)]
row_dom = [(0.7227, 0.9750), (0.4063, 0.6607), (0.0913, 0.3457)]

serif = "Liberation Serif"
fig = go.Figure()
layout = {}
shapes = []
annotations = []

for i, rows in enumerate(panels):
    n = "" if i == 0 else str(i + 1)
    r, c = divmod(i, 4)
    xs = [p[0] for p in rows]
    ys = [p[1] for p in rows]
    up = [p[3] - p[1] for p in rows]
    dn = [p[1] - p[2] for p in rows]
    fig.add_trace(go.Scatter(
        x=xs, y=ys, mode="markers", xaxis="x" + n, yaxis="y" + n, showlegend=False,
        marker=dict(size=18, color="rgba(0,0,0,0.6)", line=dict(width=0)),
        error_y=dict(type="data", symmetric=False, array=up, arrayminus=dn,
                     width=0, thickness=4, color="rgba(0,0,0,0.5)"),
    ))
    tv = [float(t) for t in tick_text[i]]
    ax = dict(range=ranges[i], tickvals=tv, ticktext=tick_text[i], automargin=False,
              showline=True, mirror=True, linecolor="#333333", linewidth=4,
              ticks="outside", ticklen=18, tickwidth=5, tickcolor="#333333",
              showgrid=False, zeroline=False,
              tickfont=dict(family="Liberation Sans", size=78, color="#4d4d4d"))
    layout["xaxis" + n] = dict(ax, domain=col_dom[c], anchor="y" + n, ticklabelstandoff=-6)
    layout["yaxis" + n] = dict(ax, domain=row_dom[r], anchor="x" + n, ticklabelstandoff=12)

    shapes.append(dict(type="line", xref="x" + n + " domain", yref="y" + n + " domain",
                       x0=0, y0=0, x1=1, y1=1, line=dict(color="black", width=3)))

    head, sub = labels[i].split("|")
    if head in ("σ", "μ", "κ"):
        head = '<span style="font-family:%s">%s</span>' % (serif, head)
    txt = head + ("<sub>%s</sub>" % sub if sub else "")
    annotations.append(dict(text=txt, xref="x" + n + " domain", yref="y" + n + " domain",
                            x=0.035, y=0.985, xanchor="left", yanchor="top", showarrow=False,
                            font=dict(family="Liberation Sans", size=90, color="black")))
    annotations.append(dict(text="Outliers:\u00a0 %d" % outliers[i],
                            xref="x" + n + " domain", yref="y" + n + " domain",
                            x=0.958, y=0.0, xanchor="right", yanchor="bottom", showarrow=False,
                            font=dict(family="Liberation Sans", size=90, color="black")))

fig.update_layout(width=4200, height=3000, margin=dict(l=0, r=0, t=0, b=0),
                  plot_bgcolor="white", paper_bgcolor="white",
                  shapes=shapes, annotations=annotations, **layout)
fig.write_html("out.html")
